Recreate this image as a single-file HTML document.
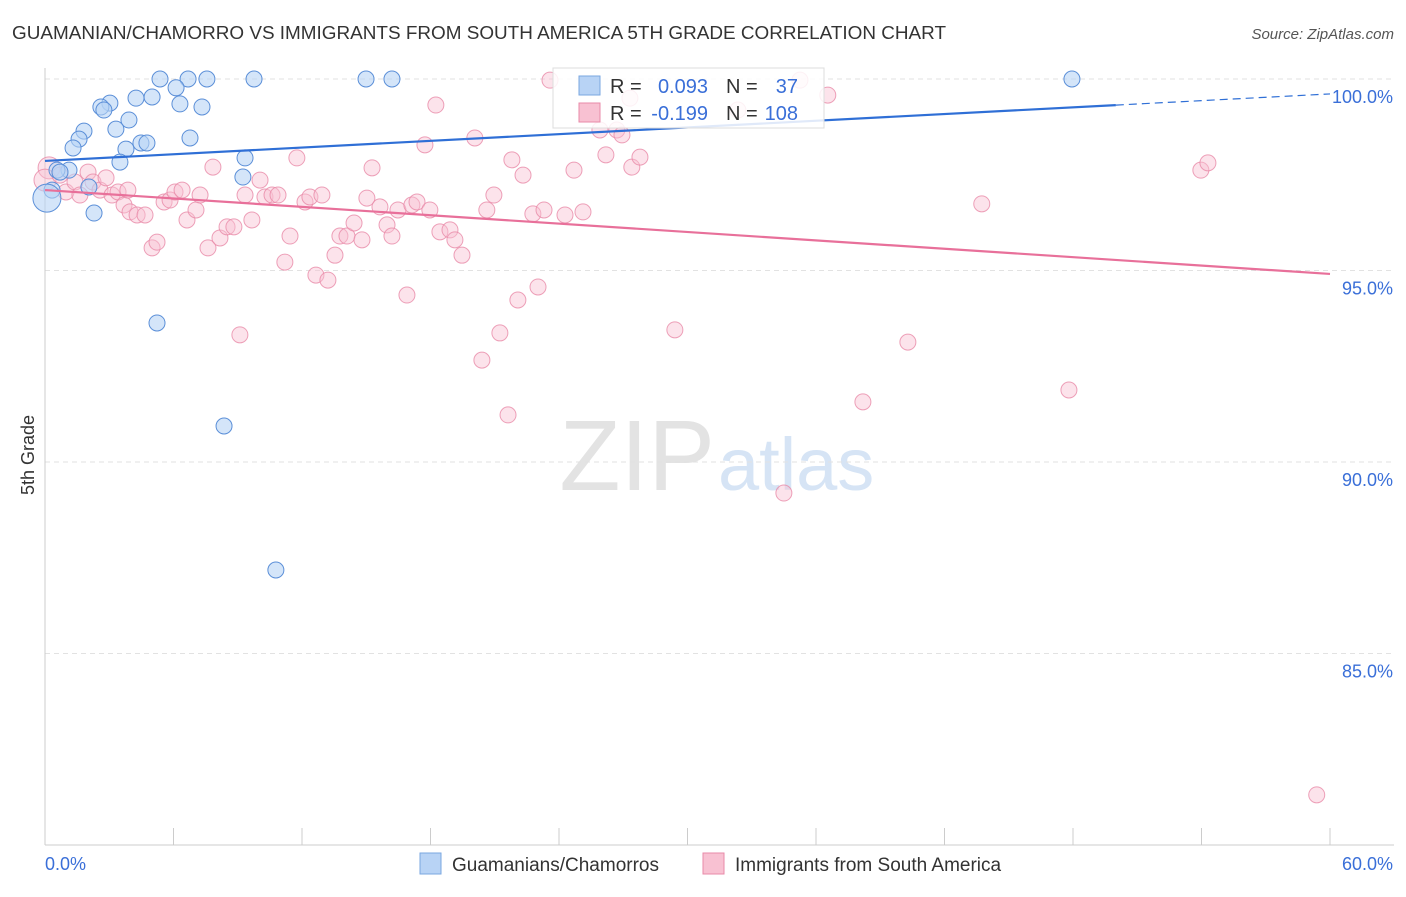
<!DOCTYPE html>
<html><head><meta charset="utf-8"><style>
body{margin:0;background:#fff;font-family:"Liberation Sans",sans-serif;}
svg text{font-family:"Liberation Sans",sans-serif;}
</style></head><body>
<svg id="chart" width="1406" height="892" viewBox="0 0 1406 892">
<text x="12" y="39" font-size="18" fill="#333" textLength="934" lengthAdjust="spacingAndGlyphs">GUAMANIAN/CHAMORRO VS IMMIGRANTS FROM SOUTH AMERICA 5TH GRADE CORRELATION CHART</text>
<text x="1394" y="39" font-size="15" fill="#555" font-style="italic" text-anchor="end">Source: ZipAtlas.com</text>
<text x="715" y="490" font-size="100" fill="#e3e3e3" text-anchor="end" font-family="Liberation Serif">ZIP</text>
<text x="718" y="490" font-size="74" fill="#d6e4f5">atlas</text>
<g id="grid"></g><g id="axes"></g><g id="pts"></g><g id="lines"></g>
<text x="34" y="455" font-size="18" fill="#333" text-anchor="middle" transform="rotate(-90 34 455)">5th Grade</text>
<g>
<rect x="553" y="68" width="271" height="60" fill="#fff" fill-opacity="0.85" stroke="#ddd"/>
<rect x="579" y="76" width="21" height="19" fill="#b8d3f5" stroke="#7aa7e0"/>
<rect x="579" y="103" width="21" height="19" fill="#f8c1d2" stroke="#e88aa8"/>
<text x="610" y="93" font-size="20" fill="#333">R =</text>
<text x="708" y="93" font-size="20" fill="#3a6fd8" text-anchor="end">0.093</text>
<text x="726" y="93" font-size="20" fill="#333">N =</text>
<text x="798" y="93" font-size="20" fill="#3a6fd8" text-anchor="end">37</text>
<text x="610" y="120" font-size="20" fill="#333">R =</text>
<text x="708" y="120" font-size="20" fill="#3a6fd8" text-anchor="end">-0.199</text>
<text x="726" y="120" font-size="20" fill="#333">N =</text>
<text x="798" y="120" font-size="20" fill="#3a6fd8" text-anchor="end">108</text>
</g>
<g>
<rect x="420" y="853" width="21" height="21" fill="#b8d3f5" stroke="#7aa7e0"/>
<text x="452" y="871" font-size="19" fill="#333">Guamanians/Chamorros</text>
<rect x="703" y="853" width="21" height="21" fill="#f8c1d2" stroke="#e88aa8"/>
<text x="735" y="871" font-size="19" fill="#333">Immigrants from South America</text>
</g>
</svg>
<script>
const yTicks=[100,95,90,85];
const yTickLabels=["100.0%","95.0%","90.0%","85.0%"];
const xTickLabels=["0.0%","60.0%"];
const blueX=[5.37,6.68,7.56,9.76,14.99,16.20,47.95,6.12,4.25,5.00,3.03,2.61,2.75,6.30,7.33,3.92,1.82,3.31,1.59,6.77,1.31,4.48,4.76,3.78,9.34,3.50,1.12,0.56,9.24,2.05,0.33,0.09,2.29,5.23,8.36,10.78,0.70];
const blueY=[100,100,100,100,100,100,100,99.77,99.50,99.53,99.37,99.27,99.19,99.35,99.27,98.93,98.64,98.69,98.43,98.46,98.20,98.33,98.33,98.17,97.94,97.83,97.62,97.62,97.44,97.18,97.10,96.89,96.50,93.63,90.94,87.18,97.57];
const pinkX=[0.19,0,0.70,0.98,1.40,1.63,2.01,2.24,2.57,2.85,3.13,3.41,3.69,3.87,3.97,4.30,4.67,5.00,5.23,5.56,5.84,6.07,6.40,6.63,7.05,7.24,7.61,7.84,8.17,8.50,8.82,9.10,9.34,9.66,10.04,10.27,10.60,10.88,11.20,11.44,11.76,12.14,12.37,12.65,12.93,13.21,13.54,13.77,14.10,14.43,14.80,15.03,15.27,15.64,15.97,16.20,16.48,16.90,17.13,17.37,17.74,17.97,18.25,18.44,18.91,19.14,19.47,20.07,20.40,20.63,20.96,21.24,21.62,21.80,22.08,22.32,22.78,23.02,23.30,23.58,24.28,24.70,25.12,25.91,26.19,26.70,26.94,27.31,27.40,27.78,29.41,32.35,34.50,35.25,36.55,38.19,40.29,43.74,47.81,53.97,54.30,59.38];
const pinkY=[97.68,97.36,97.49,97.05,97.31,96.97,97.57,97.31,97.10,97.42,96.97,97.05,96.71,97.10,96.53,96.45,96.45,95.59,95.74,96.79,96.84,97.05,97.10,96.32,96.58,96.97,95.59,97.70,95.85,96.14,96.14,93.32,96.97,96.32,97.36,96.92,96.97,96.97,95.22,95.90,97.94,96.79,96.92,94.88,96.97,94.75,95.40,95.90,95.90,96.24,95.80,96.89,97.68,96.66,96.19,95.90,96.58,94.36,96.71,96.79,98.28,96.58,99.32,96.01,96.06,95.80,95.40,98.46,92.66,96.58,96.97,93.37,91.23,97.89,94.23,97.49,96.48,94.57,96.58,99.97,96.45,97.62,96.53,98.67,98.02,98.67,98.54,99.50,97.70,97.96,93.45,99.19,89.19,99.97,99.58,91.57,93.13,96.74,91.88,97.62,97.81,81.31];
const blueTrend=[97.86,99.61];
const pinkTrend=[97.10,94.91];
const X0=45,X1=1330;
const xs=v=>X0+v/60*(X1-X0);
const ys=v=>79+(100-v)*38.3;
const NS="http://www.w3.org/2000/svg";
function mk(p,t,a){const e=document.createElementNS(NS,t);for(const k in a)e.setAttribute(k,a[k]);p.appendChild(e);return e;}
const grid=document.getElementById('grid'),axes=document.getElementById('axes'),pts=document.getElementById('pts'),lines=document.getElementById('lines');
yTicks.forEach((t,i)=>{
 const g=mk(grid,'line',{x1:X0,x2:1394,y1:ys(t),y2:ys(t),stroke:'#e2e2e2','stroke-dasharray':'5,4'});
 
 
 const l=mk(axes,'text',{x:1393,y:ys(t)+24,'font-size':18,fill:'#3a6fd8','text-anchor':'end'});
 l.textContent=yTickLabels[i];
 
 
});
const ya=mk(axes,'line',{x1:X0,x2:X0,y1:68,y2:845,stroke:'#ccc'});


const xa=mk(axes,'line',{x1:X0,x2:1394,y1:845,y2:845,stroke:'#ccc'});


for(let i=0;i<=10;i++){const x=xs(i*6);const t=mk(axes,'line',{x1:x,x2:x,y1:828,y2:845,stroke:'#ccc'});
 
 }
[[0,'start',45],[60,'end',1393]].forEach((d,i)=>{const l=mk(axes,'text',{x:d[2],y:870,'font-size':18,fill:'#3a6fd8','text-anchor':d[1]});l.textContent=xTickLabels[i];
 
 });
pinkX.forEach((x,i)=>{const c=mk(pts,'circle',{cx:xs(x),cy:ys(pinkY[i]),r:i<2?11:8,fill:'#f8c1d2','fill-opacity':0.45,stroke:'#e88aa8','stroke-opacity':0.8});
 
 });
blueX.forEach((x,i)=>{const c=mk(pts,'circle',{cx:xs(x),cy:ys(blueY[i]),r:i==31?14:8,fill:'#b8d3f5','fill-opacity':0.6,stroke:'#5b8fd8'});
 
 });
const bAt=x=>blueTrend[0]+(blueTrend[1]-blueTrend[0])*x/60;
const b1=mk(lines,'line',{x1:xs(0),y1:ys(bAt(0)),x2:xs(50),y2:ys(bAt(50)),stroke:'#2f6fd6','stroke-width':2.2});


const b2=mk(lines,'line',{x1:xs(50),y1:ys(bAt(50)),x2:xs(60),y2:ys(bAt(60)),stroke:'#2f6fd6','stroke-width':1.2,'stroke-dasharray':'8,5'});


const p1=mk(lines,'line',{x1:xs(0),y1:ys(pinkTrend[0]),x2:xs(60),y2:ys(pinkTrend[1]),stroke:'#e8709a','stroke-width':2.2});


</script>
</body></html>
